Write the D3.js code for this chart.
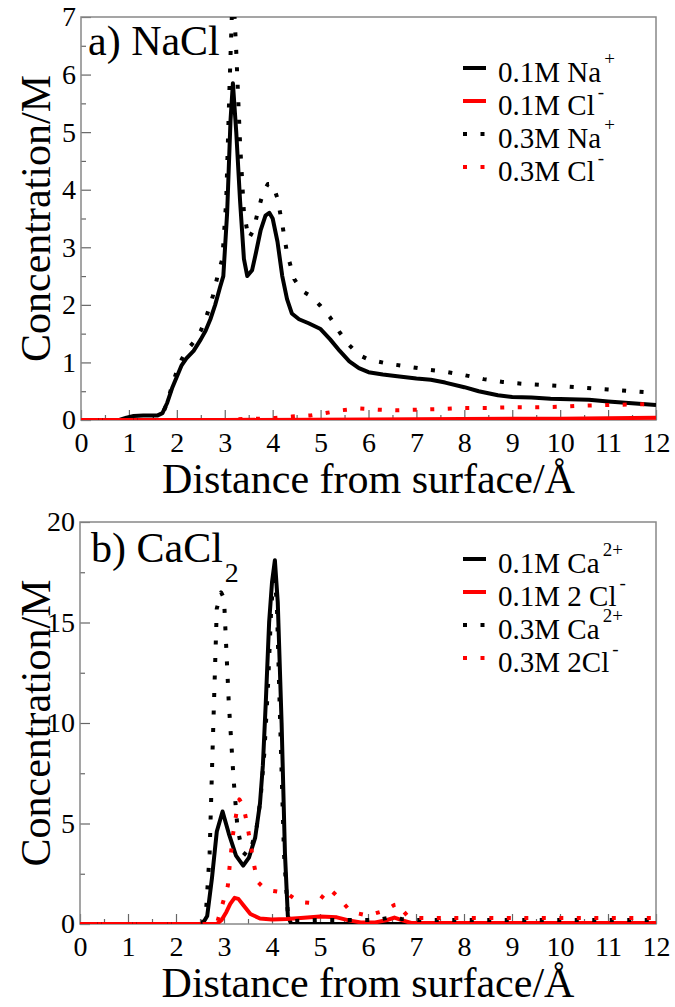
<!DOCTYPE html>
<html><head><meta charset="utf-8">
<script src="https://cdn.jsdelivr.net/npm/d3@7"></script>
<style>
body{margin:0;background:#fff}
text{font-family:"Liberation Serif","DejaVu Serif","Noto Serif",Tinos,"Times New Roman",Times,serif;fill:#000}
</style>
</head><body>
<svg id="c" width="675" height="1007"></svg>
<script>
// ---------- DATA ----------
const xTickValues = [0,1,2,3,4,5,6,7,8,9,10,11,12];
const naclYTicks = [0,1,2,3,4,5,6,7];
const caclYTicks = [0,5,10,15,20];

// Panel a) NaCl
const na01X = [0,0.8,0.95,1.1,1.3,1.6,1.7,1.8,1.9,2.0,2.1,2.2,2.35,2.5,2.6,2.7,2.8,2.9,2.97,3.05,3.12,3.17,3.24,3.32,3.4,3.47,3.57,3.65,3.75,3.85,3.93,4.0,4.1,4.2,4.3,4.4,4.55,4.75,5.0,5.2,5.4,5.6,5.8,6.0,6.3,6.6,7.0,7.3,7.6,8.0,8.3,8.7,9.0,9.4,9.8,10.2,10.6,11.0,11.5,12.0];
const na01Y = [0,0,0.04,0.07,0.08,0.08,0.12,0.3,0.55,0.75,0.95,1.07,1.2,1.4,1.55,1.75,2.0,2.3,2.5,3.6,5.2,5.85,5.0,3.8,2.8,2.5,2.6,2.9,3.3,3.55,3.6,3.5,3.1,2.5,2.1,1.85,1.75,1.68,1.58,1.4,1.2,1.02,0.9,0.83,0.79,0.76,0.72,0.7,0.65,0.57,0.5,0.43,0.4,0.39,0.37,0.36,0.35,0.32,0.29,0.26];
const cl01X = [0,3,6,9,10,11,12];
const cl01Y = [0,0,0.01,0.02,0.02,0.03,0.04];
const na03X = [0,1.5,1.7,1.8,1.9,2.0,2.1,2.2,2.35,2.5,2.6,2.75,2.85,2.95,3.03,3.1,3.17,3.24,3.32,3.4,3.5,3.6,3.7,3.8,3.9,4.0,4.1,4.2,4.3,4.45,4.6,4.8,5.0,5.2,5.4,5.6,5.8,6.0,6.4,6.8,7.2,7.6,8.0,8.4,8.8,9.2,9.6,10.0,10.5,11.0,11.5,12.0];
const na03Y = [0,0,0.1,0.3,0.6,0.85,1.05,1.2,1.35,1.55,1.75,2.15,2.5,2.8,3.8,5.8,7.6,6.4,4.8,3.6,3.15,3.3,3.65,3.95,4.1,4.1,3.85,3.4,2.9,2.45,2.25,2.15,1.98,1.78,1.52,1.3,1.13,1.05,0.98,0.93,0.88,0.84,0.78,0.71,0.66,0.63,0.61,0.59,0.56,0.53,0.5,0.47];
const cl03X = [0,3.0,3.4,3.7,4.05,4.4,4.8,5.1,5.45,5.8,6.2,6.6,7.0,7.5,8.0,8.5,9.0,9.5,10.0,10.5,11.0,11.5,12.0];
const cl03Y = [0,0,0.02,0.02,0.035,0.06,0.08,0.12,0.17,0.2,0.18,0.17,0.18,0.19,0.21,0.21,0.22,0.22,0.23,0.25,0.26,0.27,0.28];

// Panel b) CaCl2
const ca01X = [0,2.55,2.65,2.75,2.85,2.97,3.1,3.25,3.4,3.52,3.65,3.75,3.81,3.87,3.94,4.0,4.06,4.12,4.2,4.27,4.33,4.4,12];
const ca01Y = [0,0,0.4,2.3,4.6,5.6,4.5,3.4,2.9,3.3,4.3,6.0,7.9,11,15,17,18.1,16,10,3.5,0.4,0,0];
const cl2x01X = [0,2.85,2.95,3.05,3.13,3.22,3.3,3.4,3.55,3.75,4.0,4.3,4.6,5.0,5.35,5.6,5.85,6.15,6.4,6.55,6.72,6.9,7.5,9,12];
const cl2x01Y = [0,0,0.2,0.6,1.0,1.3,1.25,0.95,0.5,0.27,0.22,0.25,0.3,0.37,0.33,0.18,0.08,0.08,0.2,0.32,0.18,0.05,0.05,0.05,0.05];
const ca03X = [0,2.55,2.63,2.7,2.76,2.85,2.94,3.0,3.1,3.2,3.28,3.38,3.48,3.58,3.68,3.76,3.84,3.92,3.98,4.04,4.1,4.17,4.25,4.33,4.45,5,5.5,6,6.3,6.5,6.7,7,8,9,10,11,12];
const ca03Y = [0,0,0.8,3.5,8.5,15.7,16.5,16.2,11,7.2,4.8,3.6,3.4,3.9,4.8,6.2,8.5,12,15.5,17.6,16,10,3.5,0.5,0.15,0.2,0.2,0.2,0.25,0.35,0.25,0.2,0.2,0.2,0.2,0.2,0.2];
const cl2x03X = [0,2.85,2.97,3.08,3.13,3.19,3.25,3.32,3.4,3.48,3.55,3.62,3.7,3.85,4.0,4.3,4.56,4.8,4.96,5.1,5.2,5.35,5.5,5.65,6.0,6.35,6.55,6.65,6.75,6.85,7.0,8,9,10,11,12];
const cl2x03Y = [0,0,1.0,1.9,3.2,4.5,5.4,6.2,5.9,5.0,4.0,3.0,2.1,1.75,1.65,1.55,1.1,1.05,1.1,1.5,1.75,1.4,1.0,0.6,0.42,0.67,0.95,1.0,0.6,0.33,0.3,0.3,0.3,0.3,0.3,0.3];

const naclLabels = [["0.1M Na","+"],["0.1M Cl","-"],["0.3M Na","+"],["0.3M Cl","-"]];
const caclLabels = [["0.1M Ca","2+"],["0.1M 2 Cl","-"],["0.3M Ca","2+"],["0.3M 2Cl","-"]];

// ---------- DRAW ----------
const svg = d3.select("#c");
const FONT = '"Liberation Serif","DejaVu Serif","Noto Serif",Tinos,"Times New Roman",Times,serif';

function zip(xs, ys){ return xs.map((x,i)=>[x, ys[i]]); }

function panel(cfg){
  const {left, top, right, bottom, yMax, yTicks, yMinorStep, series, labels, legendY0, id} = cfg;
  const x = d3.scaleLinear().domain([0,12]).range([left,right]);
  const y = d3.scaleLinear().domain([0,yMax]).range([bottom,top]);
  const g = svg.append("g").attr("font-family",FONT);

  g.append("clipPath").attr("id","clip"+id).append("rect")
    .attr("x",left).attr("y",top).attr("width",right-left).attr("height",bottom-top);

  const styleAxis = s=>{
    s.attr("font-family",FONT);
    s.select(".domain").remove();
    s.selectAll("line").attr("stroke","#666").attr("stroke-width",1.2);
    s.selectAll("text").attr("font-size",28).attr("font-family",FONT).attr("fill","#000");
  };

  // minor ticks
  const xMinor = d3.range(0.5,12,1);
  g.append("g").attr("transform",`translate(0,${bottom})`)
    .call(d3.axisBottom(x).tickValues(xMinor).tickSize(-5).tickFormat("")).call(styleAxis);
  const yMinor = d3.range(yMinorStep, yMax, yMinorStep*2);
  g.append("g").attr("transform",`translate(${left},0)`)
    .call(d3.axisLeft(y).tickValues(yMinor).tickSize(-5).tickFormat("")).call(styleAxis);

  // major ticks
  g.append("g").attr("transform",`translate(0,${bottom})`)
    .call(d3.axisBottom(x).tickValues(xTickValues).tickSize(-10).tickPadding(12).tickFormat(d3.format("d")))
    .call(styleAxis);
  g.append("g").attr("transform",`translate(${left},0)`)
    .call(d3.axisLeft(y).tickValues(yTicks).tickSize(-10).tickPadding(5).tickFormat(d3.format("d")))
    .call(styleAxis);

  // frame
  g.append("rect").attr("x",left).attr("y",top).attr("width",right-left).attr("height",bottom-top)
    .attr("fill","none").attr("stroke","#888").attr("stroke-width",1.5);

  // lines
  const line = d3.line().x(d=>x(d[0])).y(d=>y(d[1]));
  const lg = g.append("g").attr("clip-path",`url(#clip${id})`);
  series.forEach(s=>{
    lg.append("path").datum(zip(s.x,s.y)).attr("d",line)
      .attr("fill","none").attr("stroke",s.color).attr("stroke-width",4)
      .attr("stroke-linejoin","round")
      .attr("stroke-dasharray", s.dotted ? "4,13.5" : null);
  });

  // legend
  const leg = g.append("g");
  series.forEach((s,i)=>{
    const by = legendY0 + i*33;
    leg.append("line").attr("x1",463).attr("x2",486).attr("y1",by-14).attr("y2",by-14)
      .attr("stroke",s.color).attr("stroke-width",4)
      .attr("stroke-dasharray", s.dotted ? "4,13.5" : null);
    const t = leg.append("text").attr("x",498).attr("y",by).attr("font-size",29).text(labels[i][0]);
    const bb = t.node().getBBox();
    leg.append("text").attr("x",bb.x + bb.width + 3).attr("y",by-17).attr("font-size",19).text(labels[i][1]);
  });

  // axis titles
  g.append("text").attr("x",(left+right)/2).attr("y",bottom+73).attr("text-anchor","middle")
    .attr("font-size",42).text("Distance from surface/Å");
  g.append("text").attr("transform",`translate(50,${(top+bottom)/2}) rotate(-90)`)
    .attr("text-anchor","middle").attr("font-size",42).text("Concentration/M");
  return g;
}

const pa = panel({id:"a", left:81, top:17, right:656, bottom:420, yMax:7, yTicks:naclYTicks, yMinorStep:0.5,
  legendY0:82, labels:naclLabels,
  series:[
    {x:na01X,y:na01Y,color:"#000",dotted:false},
    {x:cl01X,y:cl01Y,color:"#f00",dotted:false},
    {x:na03X,y:na03Y,color:"#000",dotted:true},
    {x:cl03X,y:cl03Y,color:"#f00",dotted:true}
  ]});
pa.append("text").attr("x",88).attr("y",55).attr("font-size",42).text("a) NaCl");

const pb = panel({id:"b", left:80, top:522, right:656, bottom:924, yMax:20, yTicks:caclYTicks, yMinorStep:2.5,
  legendY0:573, labels:caclLabels,
  series:[
    {x:ca01X,y:ca01Y,color:"#000",dotted:false},
    {x:cl2x01X,y:cl2x01Y,color:"#f00",dotted:false},
    {x:ca03X,y:ca03Y,color:"#000",dotted:true},
    {x:cl2x03X,y:cl2x03Y,color:"#f00",dotted:true}
  ]});
const bl = pb.append("text").attr("x",91).attr("y",562).attr("font-size",42).text("b) CaCl");
const blb = bl.node().getBBox();
pb.append("text").attr("x",blb.x + blb.width + 2).attr("y",582).attr("font-size",28).text("2");
</script>
</body></html>
